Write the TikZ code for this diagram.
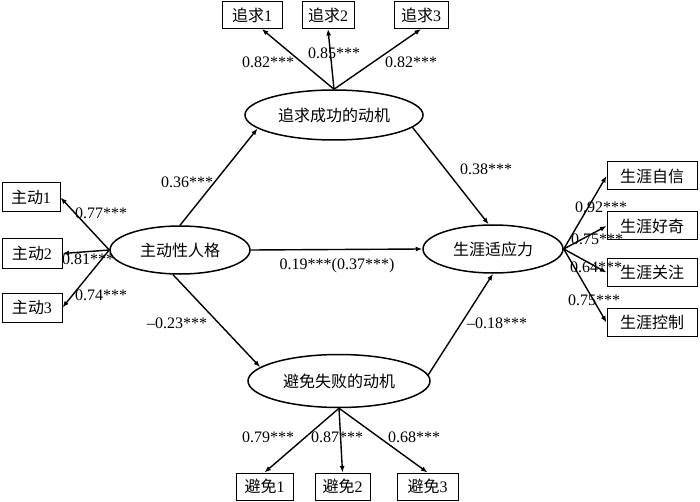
\documentclass[tikz,border=0pt]{standalone}
\usepackage{fontspec}
\setmainfont{Liberation Serif}
\newfontfamily\cjkfont{Noto Sans CJK SC}
\newcommand\zhtxt[1]{{\cjkfont #1}}
\usetikzlibrary{shapes.geometric,arrows.meta}
\begin{document}
\begin{tikzpicture}[x=1pt,y=-1pt,
  every node/.style={font=\fontsize{16}{19}\selectfont},
  latent/.style={ellipse,draw,line width=1.5pt,inner sep=0pt},
  obs/.style={rectangle,draw,line width=1pt,minimum height=28pt,inner sep=0pt},
  coef/.style={inner sep=1pt},
  arr/.style={line width=1.4pt,-{Latex[length=6.5pt,width=5pt]}}]
\useasboundingbox (0,0) rectangle (700,502);
% latent variables
\node[latent,minimum width=178pt,minimum height=50pt] (zhui) at (334,115) {\zhtxt{追求成功的动机}};
\node[latent,minimum width=140pt,minimum height=48pt] (zhu) at (180,250) {\zhtxt{主动性人格}};
\node[latent,minimum width=140pt,minimum height=48pt] (sheng) at (493,249) {\zhtxt{生涯适应力}};
\node[latent,minimum width=182pt,minimum height=53pt] (bi) at (339,381) {\zhtxt{避免失败的动机}};
% top indicators
\node[obs,minimum width=60pt,minimum height=27pt] (q1) at (252,15) {\zhtxt{追求}1};
\node[obs,minimum width=52pt,minimum height=27pt] (q2) at (328,15) {\zhtxt{追求}2};
\node[obs,minimum width=54pt,minimum height=27pt] (q3) at (421,15) {\zhtxt{追求}3};
% left indicators
\node[obs,minimum width=58pt,minimum height=29pt] (m1) at (31,197.5) {\zhtxt{主动}1};
\node[obs,minimum width=60pt,minimum height=29pt] (m2) at (32,253.5) {\zhtxt{主动}2};
\node[obs,minimum width=60pt,minimum height=29pt] (m3) at (32,307.5) {\zhtxt{主动}3};
% right indicators
\node[obs,minimum width=90pt] (r1) at (652,176) {\zhtxt{生涯自信}};
\node[obs,minimum width=90pt] (r2) at (652,226) {\zhtxt{生涯好奇}};
\node[obs,minimum width=90pt] (r3) at (652,272.5) {\zhtxt{生涯关注}};
\node[obs,minimum width=90pt] (r4) at (652,322.5) {\zhtxt{生涯控制}};
% bottom indicators
\node[obs,minimum width=57pt,minimum height=27pt] (b1) at (264.5,486.5) {\zhtxt{避免}1};
\node[obs,minimum width=55pt,minimum height=27pt] (b2) at (342.5,486.5) {\zhtxt{避免}2};
\node[obs,minimum width=61pt,minimum height=27pt] (b3) at (427.5,486.5) {\zhtxt{避免}3};
% structural paths
\draw[arr] (zhu.90) -- (zhui.190);
\draw[arr] (zhui.351) -- (sheng.100);
\draw[arr] (zhu.254) -- (bi.170);
\draw[arr] (bi.4) -- (sheng.270);
\draw[arr] (zhu.east) -- (sheng.west);
% measurement paths
\draw[arr] (zhui.north) -- (q1.305);
\draw[arr] (zhui.north) -- (q2.south);
\draw[arr] (zhui.north) -- (q3.south);
\draw[arr] (zhu.west) -- (m1.east);
\draw[arr] (zhu.west) -- (m2.east);
\draw[arr] (zhu.west) -- (m3.east);
\draw[arr] (sheng.east) -- (r1.west);
\draw[arr] (sheng.east) -- (r2.west);
\draw[arr] (sheng.east) -- (r3.west);
\draw[arr] (sheng.east) -- (r4.west);
\draw[arr] (bi.south) -- (b1.north);
\draw[arr] (bi.south) -- (b2.north);
\draw[arr] (bi.south) -- (b3.north);
% coefficients
\node[coef] (cq1) at (268,62) {0.82***};
\node[coef] (cq2) at (334,53) {0.85***};
\node[coef] (cq3) at (411,62) {0.82***};
\node[coef] (cm1) at (101,213) {0.77***};
\node[coef] (cm2) at (88,259) {0.81***};
\node[coef] (cm3) at (101,295) {0.74***};
\node[coef] (ca) at (187,182) {0.36***};
\node[coef] (cb) at (486,169) {0.38***};
\node[coef] (cc) at (337,266) {0.19***(0.37***)};
\node[coef] (cd) at (177,323) {--0.23***};
\node[coef] (ce) at (497,323) {--0.18***};
\node[coef] (cr1) at (601,207) {0.92***};
\node[coef] (cr2) at (597,239) {0.75***};
\node[coef] (cr3) at (596,267) {0.64***};
\node[coef] (cr4) at (594,300) {0.75***};
\node[coef] (cb1) at (268,437) {0.79***};
\node[coef] (cb2) at (337,437) {0.87***};
\node[coef] (cb3) at (414,437) {0.68***};
\end{tikzpicture}
\end{document}
